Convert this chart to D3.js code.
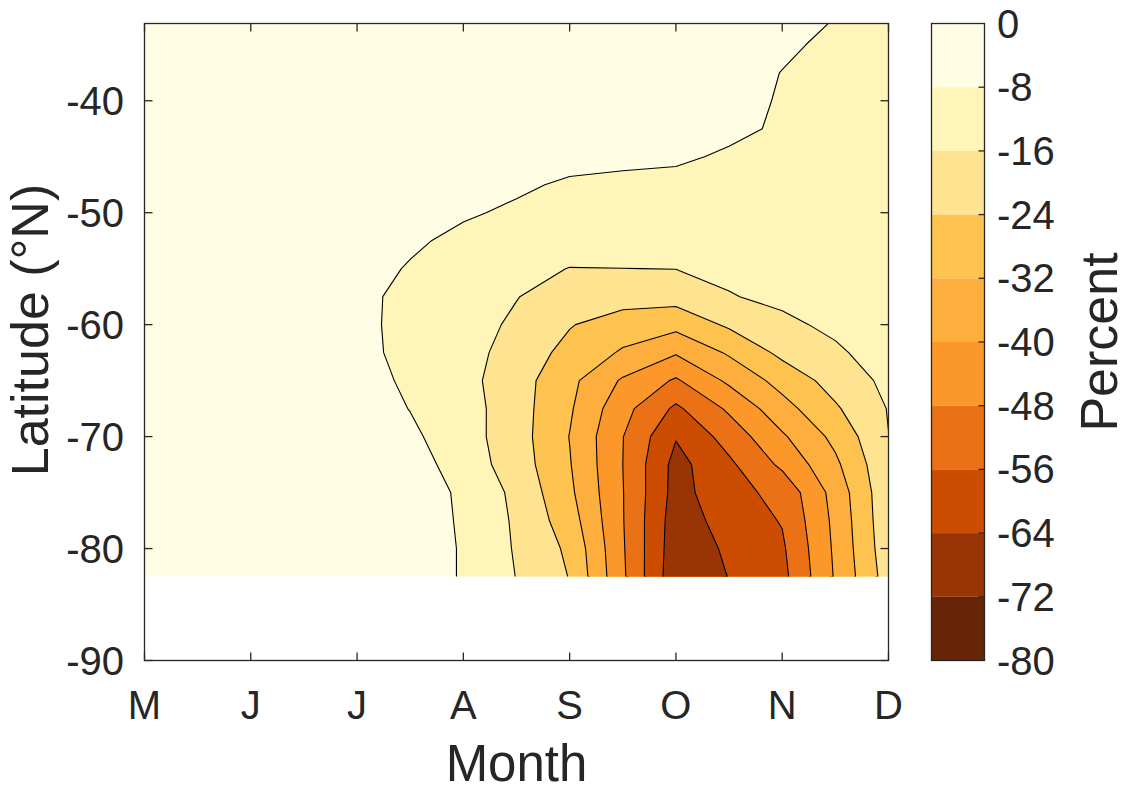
<!DOCTYPE html>
<html>
<head>
<meta charset="utf-8">
<script src="https://cdn.jsdelivr.net/npm/d3@7"></script>
<style>
  body { margin: 0; background: #ffffff; }
  text { font-family: "Liberation Sans", Arial, Helvetica, sans-serif; fill: #262626; }
</style>
</head>
<body>
<svg id="chart" width="1143" height="792"></svg>
<script>
// Grid columns: month number (5 = May ... 12 = December), half-month spacing
const months = [5, 5.5, 6, 6.5, 7, 7.5, 8, 8.5, 9, 9.5, 10, 10.5, 11, 11.5, 12];
// Grid rows: latitude (°N), south to north
const latitudes = [-82.5, -80, -77.5, -75, -72.5, -70, -67.5, -65, -62.5, -60, -57.5,
                   -55, -52.5, -50, -47.5, -45, -42.5, -40, -37.5, -35, -32.5];
// Percent change, one row per latitude, one value per month column
const percent = [
  [-2, -2.5, -3, -3.5, -4.5, -6, -8.3, -16.2, -24.3, -46.7, -69.6, -63.8, -58.3, -39.2, -20.2],
  [-2, -2.5, -3, -3.5, -4.5, -6, -8.3, -16.8, -25.5, -47.2, -68.8, -62.8, -57.2, -38.6, -19],
  [-2, -2.5, -3, -3.2, -3.5, -4.5, -8.8, -17.2, -28.2, -47.6, -68.2, -60.7, -55.5, -38, -18.3],
  [-2, -2.5, -3, -3, -3.5, -4.8, -9, -18, -30.4, -47.7, -67, -58.7, -53.7, -37, -18],
  [-2, -2.5, -3, -3, -3.5, -4.4, -11.6, -19.9, -31.5, -48, -66.7, -57.5, -46.4, -33.6, -17.4],
  [-2, -2.5, -3, -3, -4, -6.5, -12.6, -20.5, -32.2, -47.8, -63.5, -52.8, -41.1, -29.9, -16.1],
  [-2, -2.5, -3, -3, -4, -8.2, -12.5, -20.6, -31, -45.4, -57.5, -46.7, -35, -25, -15.6],
  [-2, -2.5, -3, -3, -4.5, -9.5, -13.5, -20.5, -30, -41, -49, -38.5, -29.1, -20.9, -14.1],
  [-2, -2.5, -3, -3.2, -5, -11, -13, -19.2, -26.5, -32.9, -39.3, -31, -22.1, -17.5, -11.5],
  [-2, -2.5, -3, -4, -6.3, -10, -13.5, -17, -23.5, -28, -29.5, -22.8, -18, -14, -10.5],
  [-2, -2.5, -3, -4, -6.5, -9.6, -12.7, -15.8, -19, -20.5, -21, -16.5, -14, -11.5, -9.5],
  [-2, -2.5, -3, -4, -6, -8.4, -11, -13.6, -16.2, -16.05, -15.9, -14, -12, -10.5, -9],
  [-2, -2.5, -3, -3.8, -5.5, -7.2, -9.2, -10.5, -12, -12.5, -12.5, -11.5, -10.5, -9.5, -9],
  [-2, -2.5, -3, -3.5, -4.8, -6, -7.4, -8.8, -10, -10.5, -10.5, -10.3, -10, -9.7, -9.5],
  [-2, -2.3, -2.7, -3.2, -4, -5, -6, -7.2, -8.7, -9.2, -9.3, -9.2, -9.2, -9.3, -9.4],
  [-2, -2.2, -2.5, -3, -3.5, -4, -4.5, -5.5, -6.3, -6.8, -7.3, -8.6, -9, -9.2, -9.3],
  [-2, -2.2, -2.4, -2.7, -3, -3.5, -4, -4.6, -5.2, -5.6, -6.2, -7, -8.6, -9, -9.2],
  [-2, -2.1, -2.3, -2.5, -3, -3.3, -3.8, -4.3, -4.8, -5.2, -6, -7.2, -8.2, -8.8, -9],
  [-2, -2.1, -2.2, -2.4, -2.8, -3.2, -3.6, -4.1, -4.6, -5.2, -6, -7.1, -8.05, -8.7, -9],
  [-2, -2, -2.1, -2.3, -2.6, -3, -3.4, -3.9, -4.4, -5, -5.8, -6.8, -7.6, -8.5, -9],
  [-2, -2, -2, -2.2, -2.5, -2.9, -3.3, -3.8, -4.3, -4.9, -5.6, -6.5, -7.3, -8, -8.8]
];
// Contour levels (percent) and the fill of each band below a level
const levels = [0, -8, -16, -24, -32, -40, -48, -56, -64, -72, -80];
const bandColors = ["#FFFDE3", "#FFF5B9", "#FEE391", "#FEC34F", "#FDAE3C",
                    "#FB9829", "#EB7117", "#CC4C02", "#993404", "#662506"];
// Axis ticks
const monthTicks = [5, 6, 7, 8, 9, 10, 11, 12];
const monthLabels = ["M", "J", "J", "A", "S", "O", "N", "D"];
const latTicks = [-90, -80, -70, -60, -50, -40];

const svg = d3.select("#chart");
const ink = "#262626";

// Main axes
const plot = { left: 144.5, right: 888.5, top: 23.5, bottom: 660.5 };
const x = d3.scaleLinear().domain([5, 12]).range([plot.left, plot.right]);
const y = d3.scaleLinear().domain([-90, -33.1]).range([plot.bottom, plot.top]);

// Filled contours on the month × latitude grid
const nx = months.length, ny = latitudes.length;
const dMonth = months[1] - months[0], dLat = latitudes[1] - latitudes[0];
const grid = [];
for (let j = 0; j < ny; j++) for (let i = 0; i < nx; i++) grid.push(-percent[j][i]);

const thresholds = levels.slice(1, -1).map(v => -v);      // 8, 16, ... 72
const bands = d3.contours().size([nx, ny]).thresholds(thresholds)(grid);

// d3.contours puts grid value i at coordinate i + 0.5
const gridProjection = d3.geoTransform({
  point(gx, gy) {
    this.stream.point(x(months[0] + (gx - 0.5) * dMonth), y(latitudes[0] + (gy - 0.5) * dLat));
  }
});
const contourPath = d3.geoPath(gridProjection);

const clipTop = Math.max(y(latitudes[ny - 1]), plot.top);
svg.append("clipPath").attr("id", "data-clip")
  .append("rect")
  .attr("x", x(months[0])).attr("y", clipTop)
  .attr("width", x(months[nx - 1]) - x(months[0]))
  .attr("height", y(latitudes[0]) - clipTop);

const field = svg.append("g").attr("clip-path", "url(#data-clip)");
field.append("rect")
  .attr("x", x(months[0])).attr("y", clipTop)
  .attr("width", x(months[nx - 1]) - x(months[0]))
  .attr("height", y(latitudes[0]) - clipTop)
  .attr("fill", bandColors[0]);

field.selectAll("path.band")
  .data(bands)
  .join("path")
  .attr("class", "band")
  .attr("d", contourPath)
  .attr("fill", (d, k) => bandColors[k + 1])
  .attr("stroke", "#000")
  .attr("stroke-width", 1.1)
  .attr("stroke-linejoin", "round");

// Axes box and inward ticks
const tickLen = 8;
const axes = svg.append("g").attr("stroke", ink).attr("stroke-width", 1.3).attr("fill", "none");
axes.append("rect")
  .attr("x", plot.left).attr("y", plot.top)
  .attr("width", plot.right - plot.left).attr("height", plot.bottom - plot.top);
monthTicks.forEach(m => {
  axes.append("line").attr("x1", x(m)).attr("x2", x(m)).attr("y1", plot.bottom).attr("y2", plot.bottom - tickLen);
  axes.append("line").attr("x1", x(m)).attr("x2", x(m)).attr("y1", plot.top).attr("y2", plot.top + tickLen);
});
latTicks.forEach(l => {
  axes.append("line").attr("x1", plot.left).attr("x2", plot.left + tickLen).attr("y1", y(l)).attr("y2", y(l));
  axes.append("line").attr("x1", plot.right).attr("x2", plot.right - tickLen).attr("y1", y(l)).attr("y2", y(l));
});

// Tick labels
const tickFont = 40;
svg.append("g").selectAll("text")
  .data(monthTicks)
  .join("text")
  .attr("x", d => x(d)).attr("y", 719)
  .attr("text-anchor", "middle")
  .attr("font-size", tickFont)
  .text((d, i) => monthLabels[i]);

svg.append("g").selectAll("text")
  .data(latTicks)
  .join("text")
  .attr("x", 124).attr("y", d => y(d) + 14)
  .attr("text-anchor", "end")
  .attr("font-size", tickFont)
  .text(d => d);

// Axis titles
svg.append("text")
  .attr("x", (plot.left + plot.right) / 2).attr("y", 781)
  .attr("text-anchor", "middle").attr("font-size", 51)
  .text("Month");
svg.append("text")
  .attr("transform", "translate(48,330) rotate(-90)")
  .attr("text-anchor", "middle").attr("font-size", 52)
  .text("Latitude (°N)");

// Colour bar
const bar = { left: 931.5, right: 984.5, top: 23.5, bottom: 660.5 };
const yc = d3.scaleLinear().domain([-80, 0]).range([bar.bottom, bar.top]);
svg.append("g").selectAll("rect")
  .data(bandColors)
  .join("rect")
  .attr("x", bar.left)
  .attr("width", bar.right - bar.left)
  .attr("y", (d, k) => yc(levels[k]))
  .attr("height", (d, k) => yc(levels[k + 1]) - yc(levels[k]))
  .attr("fill", d => d);

const barAxes = svg.append("g").attr("stroke", ink).attr("stroke-width", 1.3).attr("fill", "none");
barAxes.append("rect")
  .attr("x", bar.left).attr("y", bar.top)
  .attr("width", bar.right - bar.left).attr("height", bar.bottom - bar.top);
levels.slice(1, -1).forEach(v => {
  barAxes.append("line").attr("x1", bar.right).attr("x2", bar.right - 6).attr("y1", yc(v)).attr("y2", yc(v));
});

svg.append("g").selectAll("text")
  .data(levels)
  .join("text")
  .attr("x", 997).attr("y", d => yc(d) + 14)
  .attr("font-size", tickFont)
  .text(d => d);

svg.append("text")
  .attr("transform", `translate(1117,${(bar.top + bar.bottom) / 2}) rotate(-90)`)
  .attr("text-anchor", "middle").attr("font-size", 52)
  .text("Percent");
</script>
</body>
</html>
